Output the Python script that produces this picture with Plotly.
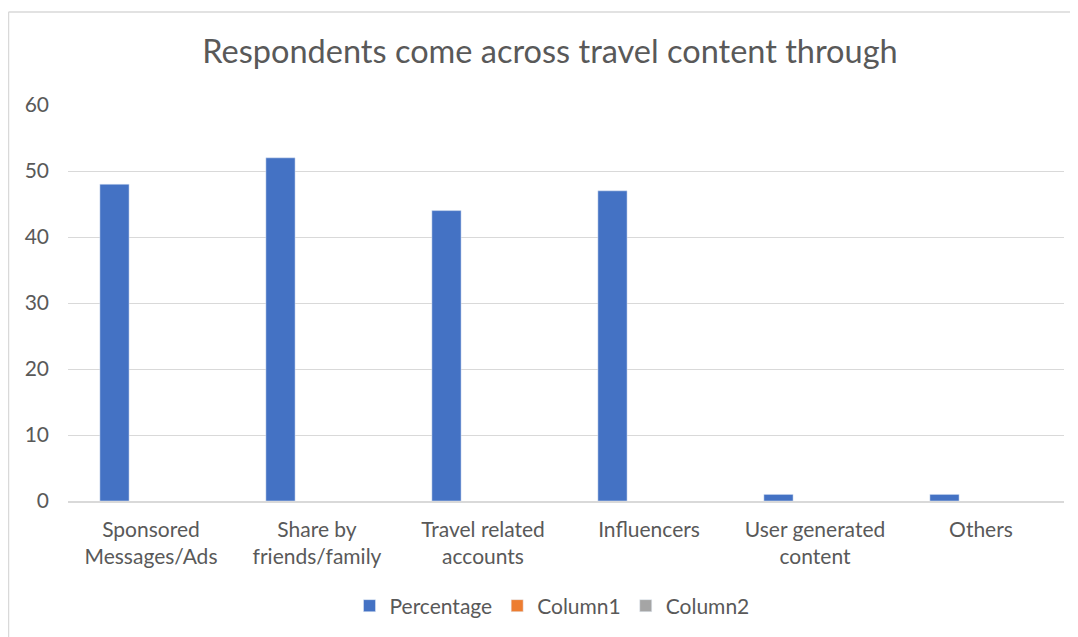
import plotly.graph_objects as go

categories = ["Sponsored<br>Messages/Ads", "Share by<br>friends/family", "Travel related<br>accounts",
              "Influencers", "User generated<br>content", "Others"]
percentage = [48, 52, 44, 47, 1, 1]
column1 = [None] * 6
column2 = [None] * 6

# page body has an 8px margin; work in window pixels and shift
OFF = 8
W, H = 1078 - OFF, 637 - OFF
L, R, T, B = 68 - OFF, 1064 - OFF, 105 - OFF, 501 - OFF
pw, ph = R - L, B - T

def px(x):
    return (x - OFF - L) / pw

def py(y):
    return (B - (y - OFF)) / ph

fig = go.Figure()
fig.add_trace(go.Bar(x=categories, y=percentage, name="Percentage", marker_color="#4472C4"))
fig.add_trace(go.Bar(x=categories, y=column1, name="Column1", marker_color="#ED7D31"))
fig.add_trace(go.Bar(x=categories, y=column2, name="Column2", marker_color="#A5A5A5"))

font = "Lato, Open Sans, sans-serif"
fig.update_layout(
    width=W, height=H,
    margin=dict(l=L, r=W - R, t=T, b=H - B, autoexpand=False),
    paper_bgcolor="white", plot_bgcolor="white",
    barmode="group", bargap=0.34, bargroupgap=0.2,
    font=dict(family=font, color="#595959", size=21),
    title=dict(text="Respondents come across travel content through", x=px(550), xref="paper",
               xanchor="center", y=1 - (52 - OFF) / H, yanchor="middle", yref="container",
               font=dict(size=32.5, color="#595959", family=font)),
    legend=dict(orientation="h", x=px(552), xanchor="center", y=py(606), yanchor="middle",
                font=dict(size=21, color="#595959"), itemwidth=30, traceorder="normal"),
    xaxis=dict(showgrid=False, showline=True, linecolor="#D9D9D9", linewidth=1.5,
               ticks="", tickfont=dict(size=21, color="#595959"), ticklabelstandoff=9,
               fixedrange=True),
    yaxis=dict(range=[0, 60], dtick=10, showgrid=True, gridcolor="#D9D9D9", gridwidth=1.3,
               zeroline=False, showline=False, ticks="", tickfont=dict(size=21, color="#595959"),
               ticklabelstandoff=18),
    shapes=[
        dict(type="line", xref="paper", yref="paper", x0=px(8.5), x1=px(8.5), y0=py(12), y1=py(640),
             line=dict(color="#D9D9D9", width=1.5)),
        dict(type="line", xref="paper", yref="paper", x0=px(8.5), x1=px(1080), y0=py(12), y1=py(12),
             line=dict(color="#D9D9D9", width=1.5)),
    ],
)
fig.write_html("out.html")
